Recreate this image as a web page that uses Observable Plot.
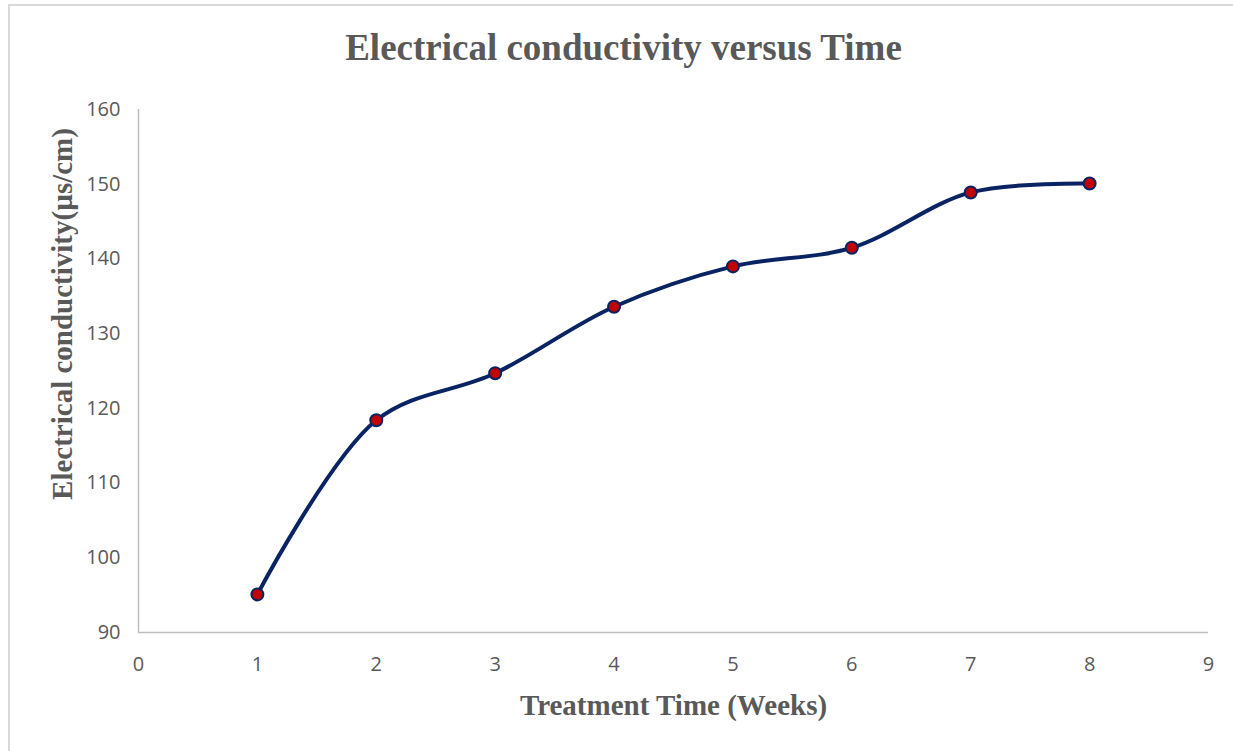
<!DOCTYPE html>
<html>
<head>
<meta charset="utf-8">
<script src="https://cdn.jsdelivr.net/npm/d3@7"></script>
<script src="https://cdn.jsdelivr.net/npm/@observablehq/plot@0.6"></script>
<style>
  html, body { margin: 0; padding: 0; background: #fff; }
  #frame { position: absolute; left: 8px; top: 4px; width: 1240px; height: 760px;
           border-top: 2px solid #d9d9d9; border-left: 2px solid #d9d9d9; box-sizing: border-box; }
  #chart { position: absolute; left: 0; top: 0; }
</style>
</head>
<body>
<div id="frame"></div>
<div id="chart"></div>
<script>
const weeks = [1, 2, 3, 4, 5, 6, 7, 8];
const conductivity = [95.1, 118.4, 124.7, 133.6, 139.0, 141.5, 148.9, 150.1];
const xTicks = [0, 1, 2, 3, 4, 5, 6, 7, 8, 9];
const yTicks = [90, 100, 110, 120, 130, 140, 150, 160];
const titleText = "Electrical conductivity versus Time";
const xLabel = "Treatment Time (Weeks)";
const yLabel = "Electrical conductivity(µs/cm)";

const data = weeks.map((w, i) => ({week: w, ec: conductivity[i]}));

const serif = "'Liberation Serif', 'DejaVu Serif', serif";
const sans = "'Open Sans', 'Liberation Sans', sans-serif";
const gray = "#595959";

const chart = Plot.plot({
  width: 1233,
  height: 751,
  marginLeft: 138,
  marginRight: 25,
  marginTop: 109,
  marginBottom: 119,
  style: {fontFamily: sans, fontSize: "20px", color: gray, background: "transparent"},
  x: {domain: [0, 9], label: null},
  y: {domain: [90, 160], label: null},
  marks: [
    Plot.ruleY([90], {stroke: "#bfbfbf", strokeWidth: 1.5}),
    Plot.ruleX([0], {stroke: "#bfbfbf", strokeWidth: 1.5}),
    Plot.axisX({ticks: xTicks, tickSize: 0, tickPadding: 24, fill: gray, fontSize: 20, label: null}),
    Plot.axisY({ticks: yTicks, tickSize: 0, tickPadding: 18, fill: gray, fontSize: 20, label: null}),
    Plot.line(data, {x: "week", y: "ec", curve: "catmull-rom", stroke: "#0a2463", strokeWidth: 4}),
    Plot.dot(data, {x: "week", y: "ec", r: 6, fill: "#c00000", stroke: "#0a2463", strokeWidth: 2}),
    Plot.text([titleText], {frameAnchor: "top", lineAnchor: "middle", textAnchor: "middle", dx: -50, dy: -61, text: d => d, fontFamily: serif, fontWeight: "bold", fontSize: 37, fill: gray}),
    Plot.text([xLabel], {frameAnchor: "bottom", lineAnchor: "middle", textAnchor: "middle", dy: 73, text: d => d, fontFamily: serif, fontWeight: "bold", fontSize: 29, fill: gray}),
    Plot.text([yLabel], {frameAnchor: "left", lineAnchor: "middle", textAnchor: "middle", dx: -76, dy: -57, rotate: -90, text: d => d, fontFamily: serif, fontWeight: "bold", fontSize: 29, fill: gray})
  ]
});
document.getElementById("chart").appendChild(chart);
</script>
</body>
</html>
